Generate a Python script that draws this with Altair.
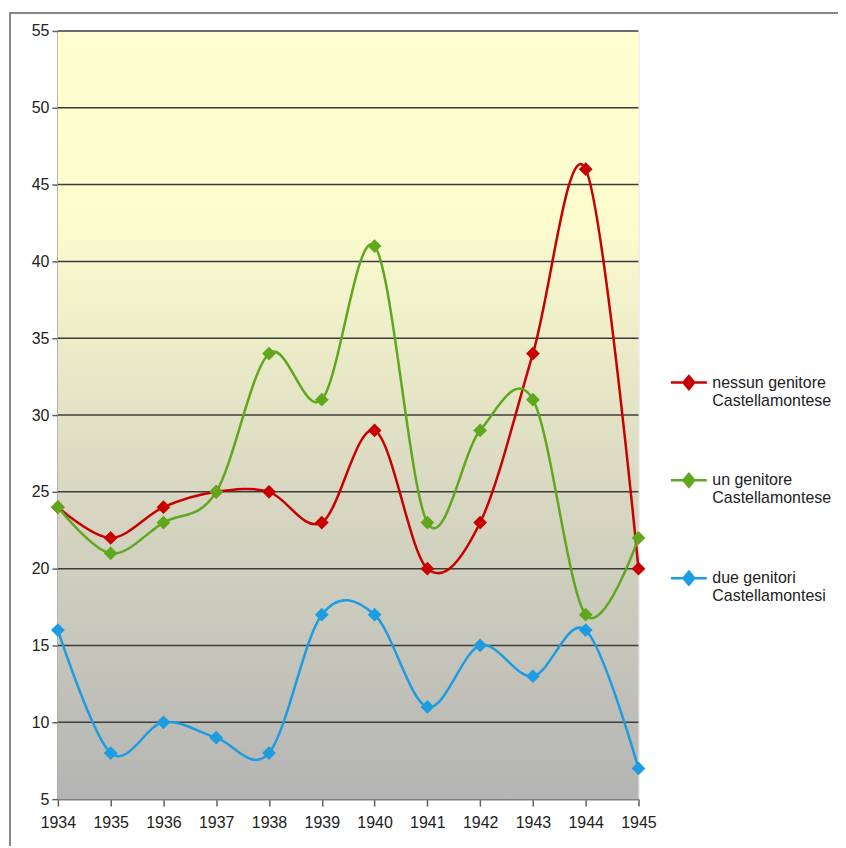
import altair as alt
import pandas as pd

years = [1934, 1935, 1936, 1937, 1938, 1939, 1940, 1941, 1942, 1943, 1944, 1945]
series_names = [
    "nessun genitore|Castellamontese",
    "un genitore|Castellamontese",
    "due genitori|Castellamontesi",
]
nessun = [24, 22, 24, 25, 25, 23, 29, 20, 23, 34, 46, 20]
uno = [24, 21, 23, 25, 34, 31, 41, 23, 29, 31, 17, 22]
due = [16, 8, 10, 9, 8, 17, 17, 11, 15, 13, 16, 7]
colors = ["#C80000", "#5FA81E", "#1E9CE2"]
y_ticks = [5, 10, 15, 20, 25, 30, 35, 40, 45, 50, 55]

rows = []
for name, vals in zip(series_names, [nessun, uno, due]):
    for yr, v in zip(years, vals):
        rows.append({"anno": str(yr), "valore": v, "serie": name})
df = pd.DataFrame(rows)
grid_df = pd.DataFrame({"valore": y_ticks[1:]})

W, H = 582, 770
FONT = "Liberation Sans Narrow, Liberation Sans, Arial"

bg = alt.Chart(alt.Data(values=[{"a": 1}])).mark_rect(
    fill=alt.Gradient(
        gradient="linear",
        stops=[
            alt.GradientStop(color="#FFFFD2", offset=0),
            alt.GradientStop(color="#FCFCCF", offset=0.25),
            alt.GradientStop(color="#D8D8C2", offset=0.6),
            alt.GradientStop(color="#B4B4B4", offset=1),
        ],
        x1=0, x2=0, y1=0, y2=1,
    )
).encode(x=alt.value(0), x2=alt.value(W), y=alt.value(0), y2=alt.value(H))

yscale = alt.Scale(domain=[5, 55], nice=False, zero=False)

grid = alt.Chart(grid_df).mark_rule(color="#3C3C3C", strokeWidth=1.5).encode(
    y=alt.Y("valore:Q", scale=yscale),
    x=alt.value(0), x2=alt.value(W),
)

border = alt.Chart(alt.Data(values=[{"a": 1}])).mark_rect(
    fill=None, stroke="#606060", strokeWidth=1.5, clip=False
).encode(x=alt.value(-48), x2=alt.value(W + 400), y=alt.value(-18), y2=alt.value(H + 200))

legend_path = "M-1,0L1,0M0,-0.36L0.3,0L0,0.36L-0.3,0Z"

lines = alt.Chart(df).mark_line(
    interpolate="cardinal",
    strokeWidth=2.5,
    point=alt.OverlayMarkDef(shape="diamond", size=190, filled=True, opacity=1),
).encode(
    x=alt.X(
        "anno:O",
        scale=alt.Scale(type="point", padding=0),
        axis=alt.Axis(
            title=None, labelAngle=0, labelPadding=8, tickSize=7,
            grid=False, labelFontSize=16, labelColor="#222", labelFont=FONT,
            domainColor="#808080", domainWidth=2, tickColor="#606060", tickWidth=1.5,
        ),
    ),
    y=alt.Y(
        "valore:Q",
        scale=yscale,
        axis=alt.Axis(
            title=None, values=y_ticks, tickSize=6, labelPadding=3,
            grid=False, labelFontSize=16, labelColor="#222", labelFont=FONT,
            domainColor="#808080", domainWidth=2, tickColor="#606060", tickWidth=1.5,
        ),
    ),
    color=alt.Color(
        "serie:N",
        scale=alt.Scale(domain=series_names, range=colors),
        legend=alt.Legend(
            title=None, orient="none", legendX=613, legendY=333,
            symbolType=legend_path, symbolSize=1296, symbolStrokeWidth=2.5,
            labelExpr="split(datum.label, '|')",
            labelFontSize=16, labelColor="#222", labelFont=FONT,
            rowPadding=52, padding=0, labelOffset=4,
        ),
    ),
)

chart = alt.layer(bg, grid, lines, border).properties(
    width=W, height=H,
    padding={"left": 50, "top": 22, "right": 200, "bottom": 46},
    autosize=alt.AutoSizeParams(type="none"),
).configure_view(stroke=None).configure(background="white")

chart.save("out.html", embed_options={"renderer": "svg", "actions": False})
